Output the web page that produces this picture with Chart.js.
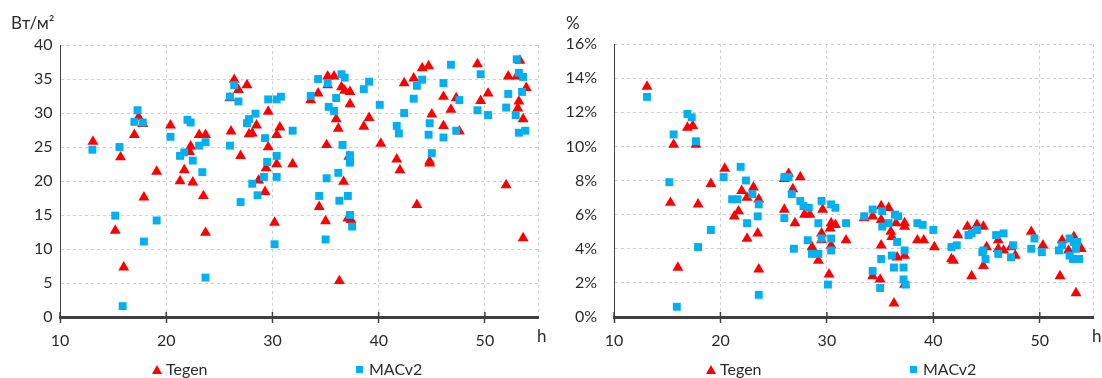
<!DOCTYPE html>
<html><head><meta charset="utf-8">
<script src="https://cdn.jsdelivr.net/npm/chart.js@4"></script>
<style>
html,body{margin:0;padding:0;background:#fff;}
#wrap{position:relative;width:1102px;height:378px;overflow:hidden;font-family:Lato,"Open Sans",sans-serif;color:#2b2b2b;}
canvas{position:absolute;top:0;}
.lbl{position:absolute;font-size:16px;line-height:20px;white-space:nowrap;}
.tri{position:absolute;width:0;height:0;border-left:5px solid transparent;border-right:5px solid transparent;border-bottom:9px solid #FF0000;}
.sq{position:absolute;width:7px;height:7px;background:#00B0F0;}
</style></head>
<body>
<div id="wrap">
  <canvas id="c1" width="551" height="378" style="left:0"></canvas>
  <canvas id="c2" width="551" height="378" style="left:551px"></canvas>
  <div class="lbl" style="left:11px;top:13px;font-size:17px;">Вт/м²</div>
  <div class="lbl" style="left:566px;top:13px;font-size:17px;">%</div>
  <div class="lbl" style="left:537px;top:326px;font-size:17px;">h</div>
  <div class="lbl" style="left:1092px;top:326px;font-size:17px;">h</div>
  <div class="tri" style="left:152px;top:365px;"></div>
  <div class="lbl" style="left:166px;top:359px;">Tegen</div>
  <div class="sq" style="left:356px;top:366px;"></div>
  <div class="lbl" style="left:369px;top:359px;">MACv2</div>
  <div class="tri" style="left:706px;top:365px;"></div>
  <div class="lbl" style="left:720px;top:359px;">Tegen</div>
  <div class="sq" style="left:910px;top:366px;"></div>
  <div class="lbl" style="left:923px;top:359px;">MACv2</div>
</div>
<script>
// ---- data ----
const xTickLabels = [10, 20, 30, 40, 50];
const xMax = 55;
const fluxTicks = [0, 5, 10, 15, 20, 25, 30, 35, 40];
const pctTicks = [0, 2, 4, 6, 8, 10, 12, 14, 16];

// Left chart: W/m2, Tegen
const tegenFluxH = [13.1,15.7,17.4,17.8,17.0,19.1,20.4,22.3,22.2,21.7,23.1,23.7,26.4,26.8,27.6,26.0,26.1,27.0,28.5,27.8,28.1,29.6,30.4,29.6,30.7,30.4,29.4,21.3,22.5,28.7,29.3,17.9,15.2,16.0,23.5,23.7,30.2,36.7,34.4,35.0,37.4,37.1,36.3,42.0,43.6,52.0,53.6,31.9,34.3,33.6,35.2,35.2,35.8,36.5,36.8,37.3,37.3,36.0,36.2,35.1,37.2,38.6,39.1,40.2,42.4,43.3,44.1,44.7,41.7,46.1,47.3,46.8,45.0,46.1,47.6,44.8,44.8,49.3,50.3,49.6,52.2,53.3,53.0,53.9,53.2,53.1,53.6];
const tegenFlux  = [25.8,23.5,29.4,28.4,26.8,21.4,28.2,25.1,24.3,21.6,26.8,26.8,34.9,33.4,34.1,32.2,27.3,23.7,28.2,26.9,27.0,30.2,26.8,25.0,27.9,22.5,21.9,20.0,19.8,20.1,18.4,17.6,12.7,7.3,17.8,12.4,13.9,19.9,16.2,14.1,14.3,14.5,5.3,21.6,16.5,19.4,11.6,22.5,32.9,31.9,35.4,34.1,35.4,33.8,33.3,33.1,31.3,29.1,27.7,25.3,23.6,28.0,29.3,25.5,34.4,35.1,36.6,36.9,23.2,32.4,32.2,30.5,29.8,28.1,27.3,22.9,22.6,37.2,32.9,31.8,35.4,37.7,35.4,33.7,31.7,30.7,29.1];

// Left chart: W/m2, MACv2
const macFluxH = [13.05,15.6,17.3,17.0,17.8,20.4,22.0,22.3,21.3,21.7,22.5,23.4,23.1,23.7,26.4,26.8,26.0,26.0,27.6,27.8,28.4,29.3,29.6,30.4,29.5,30.4,28.1,29.2,30.4,28.6,27.0,15.2,19.1,17.9,15.9,23.7,30.2,35.1,36.2,34.4,37.1,36.3,37.3,37.5,35.0,30.8,31.9,34.3,33.6,35.2,36.5,36.8,36.0,35.3,35.8,36.6,37.3,37.3,38.6,39.1,40.1,44.1,43.6,43.3,42.4,41.7,41.9,46.8,46.1,47.6,44.8,44.7,46.1,47.3,45.0,49.6,49.3,50.3,53.0,53.2,53.6,53.5,52.2,52.0,52.9,53.2,53.8];
const macFlux  = [24.6,25.0,30.4,28.7,28.6,26.5,29.0,28.6,23.7,24.2,23.0,21.3,25.2,25.7,34.1,31.7,32.4,25.2,28.5,29.1,29.9,26.3,32.0,32.0,22.8,23.7,19.6,20.6,20.6,17.9,16.9,14.9,14.2,11.1,1.6,5.8,10.7,20.4,21.2,17.8,17.8,17.1,15.0,13.3,11.4,32.4,27.4,35.0,32.5,34.4,35.7,35.2,32.2,30.9,30.3,25.3,23.8,22.7,33.5,34.6,31.2,34.9,34.0,32.1,30.0,28.1,27.0,37.1,34.4,31.9,28.5,26.8,26.4,27.4,24.1,35.7,30.4,29.7,37.9,35.9,35.3,33.1,32.8,30.8,29.7,27.1,27.4];

// Right chart: %, Tegen
const tegenPctH = [13.1,15.6,16.9,17.4,17.7,20.4,15.3,17.9,19.1,16.0,23.1,22.0,22.5,23.6,21.7,21.3,22.5,23.5,23.6,26.0,26.4,27.5,26.8,27.9,28.4,26.0,27.0,28.6,29.2,29.6,30.4,30.8,30.3,29.5,29.5,30.4,31.8,30.2,33.5,34.3,35.1,35.8,35.1,36.5,37.3,37.3,36.0,36.1,35.1,37.3,36.6,34.3,35.0,37.3,36.3,38.5,39.1,40.1,42.3,41.7,41.9,43.6,43.2,44.1,44.7,45.0,44.7,46.1,46.1,46.6,47.3,47.7,49.2,50.3,51.9,52.1,53.2,53.9,52.7,53.4];
const tegenPct  = [13.5,10.1,11.1,11.2,10.1,8.7,6.7,6.6,7.8,2.9,7.6,7.4,7.0,6.9,6.2,5.9,4.6,4.9,2.8,8.1,8.4,8.2,7.5,6.0,6.0,6.3,5.5,4.1,3.3,6.3,5.5,5.4,5.2,4.9,4.5,4.2,4.5,2.5,5.8,5.9,6.5,6.4,5.7,5.5,5.5,5.3,5.0,4.7,4.2,3.6,3.5,2.4,2.2,1.9,0.8,4.5,4.5,4.1,4.8,3.4,3.3,2.4,5.3,5.4,5.3,4.1,3.0,4.5,4.0,3.9,4.1,3.6,5.0,4.2,2.4,4.5,4.7,4.0,3.9,1.4];

// Right chart: %, MACv2
const macPctH = [13.1,15.6,16.9,17.3,17.7,21.9,15.2,19.1,17.9,15.9,20.3,22.4,21.1,21.6,23.0,23.6,22.5,23.5,23.6,26.0,26.4,26.7,27.5,27.8,28.3,26.0,26.9,28.2,28.6,29.2,29.2,29.5,30.4,30.8,31.8,29.5,30.4,30.4,30.1,33.5,34.3,35.2,35.2,35.8,36.4,36.7,36.6,35.1,37.3,36.1,36.3,37.2,34.3,35.0,37.4,37.2,38.5,39.0,40.0,41.7,42.2,43.3,43.6,44.1,44.7,44.6,44.9,45.9,46.6,46.1,47.5,47.3,49.5,49.2,50.2,51.8,52.1,52.8,53.2,53.5,53.4,52.8,53.1,53.7];
const macPct  = [12.9,10.7,11.9,11.7,10.3,8.8,7.9,5.1,4.1,0.6,8.2,8.0,6.9,6.9,7.2,6.6,5.5,5.9,1.3,8.2,8.2,7.2,6.8,6.5,6.4,5.8,4.0,4.5,3.7,3.7,5.5,6.8,6.6,6.4,5.5,4.6,4.6,3.9,1.9,5.9,6.3,6.2,5.3,5.5,6.0,5.9,4.4,3.4,3.9,3.6,2.9,2.9,2.7,1.7,1.9,2.2,5.5,5.4,5.1,4.1,4.2,4.8,4.9,5.1,3.9,3.8,3.4,4.8,4.9,3.7,4.2,3.5,4.6,4.0,3.8,3.9,4.2,4.6,4.4,4.4,4.0,3.6,3.4,3.4];

// ---- rendering ----
const RED = '#FF0000', BLUE = '#00B0F0', AXIS = '#404040', GRID = '#CFCFCF', TXT = '#2b2b2b';
const FONT = 'Lato, "Open Sans", sans-serif';
const zip = (xs, ys) => xs.map((x, i) => ({x: x, y: ys[i]}));

const crossTicks = {
  id: 'crossTicks',
  beforeDatasetsDraw(chart) {
    const xs = chart.scales.x, ctx = chart.ctx, b = chart.chartArea.bottom;
    ctx.save();
    ctx.strokeStyle = AXIS; ctx.lineWidth = 1.5; ctx.setLineDash([]);
    xTickLabels.forEach(v => {
      const px = xs.getPixelForValue(v);
      ctx.beginPath(); ctx.moveTo(px, b - 5); ctx.lineTo(px, b); ctx.stroke();
    });
    ctx.restore();
  }
};

function makeChart(id, tX, tY, mX, mY, yTicks, yFmt, yWidth, yPad, pad) {
  const yMin = yTicks[0], yMax = yTicks[yTicks.length - 1];
  return new Chart(document.getElementById(id), {
    type: 'scatter',
    data: {
      datasets: [
        { label: 'MACv2', data: zip(mX, mY), pointStyle: 'rect', pointRadius: 5.6, pointHoverRadius: 5.6,
          backgroundColor: BLUE, borderWidth: 0, order: 0 },
        { label: 'Tegen', data: zip(tX, tY), pointStyle: 'triangle', pointRadius: 6.3, pointHoverRadius: 6.3,
          backgroundColor: RED, borderWidth: 0, order: 1 }
      ]
    },
    options: {
      responsive: false, animation: false, devicePixelRatio: 1, events: [],
      layout: { padding: pad },
      plugins: { legend: { display: false }, tooltip: { enabled: false }, title: { display: false } },
      scales: {
        x: {
          type: 'linear', min: xTickLabels[0], max: xMax,
          afterBuildTicks: s => { s.ticks = xTickLabels.concat([xMax]).map(v => ({value: v})); },
          afterFit: s => { s.height = 40; },
          ticks: { autoSkip: false, maxRotation: 0, padding: 8, color: TXT, font: { family: FONT, size: 16 },
                   callback: v => xTickLabels.includes(v) ? String(v) : '' },
          grid: { color: GRID, lineWidth: 1, drawTicks: true, tickLength: 6, tickWidth: 1.5, tickBorderDash: [],
                  tickColor: c => (c.tick && xTickLabels.includes(c.tick.value)) ? AXIS : 'rgba(0,0,0,0)' },
          border: { display: true, color: AXIS, width: 3, dash: [3, 3] }
        },
        y: {
          type: 'linear', min: yMin, max: yMax,
          afterBuildTicks: s => { s.ticks = yTicks.map(v => ({value: v})); },
          afterFit: s => { s.width = yWidth; },
          ticks: { autoSkip: false, padding: yPad, color: TXT, font: { family: FONT, size: 16 },
                   callback: v => yFmt(v) },
          grid: { color: GRID, lineWidth: 1, drawTicks: false },
          border: { display: true, color: AXIS, width: 1, dash: [3, 3] }
        }
      }
    },
    plugins: [crossTicks]
  });
}

makeChart('c1', tegenFluxH, tegenFlux, macFluxH, macFlux, fluxTicks, v => String(v), 60, 7.5,
  { left: 0, right: 13, top: 45, bottom: 21 });
makeChart('c2', tegenPctH, tegenPct, macPctH, macPct, pctTicks, v => v + '%', 63, 17,
  { left: 0, right: 9, top: 44, bottom: 21 });
</script>
</body></html>
